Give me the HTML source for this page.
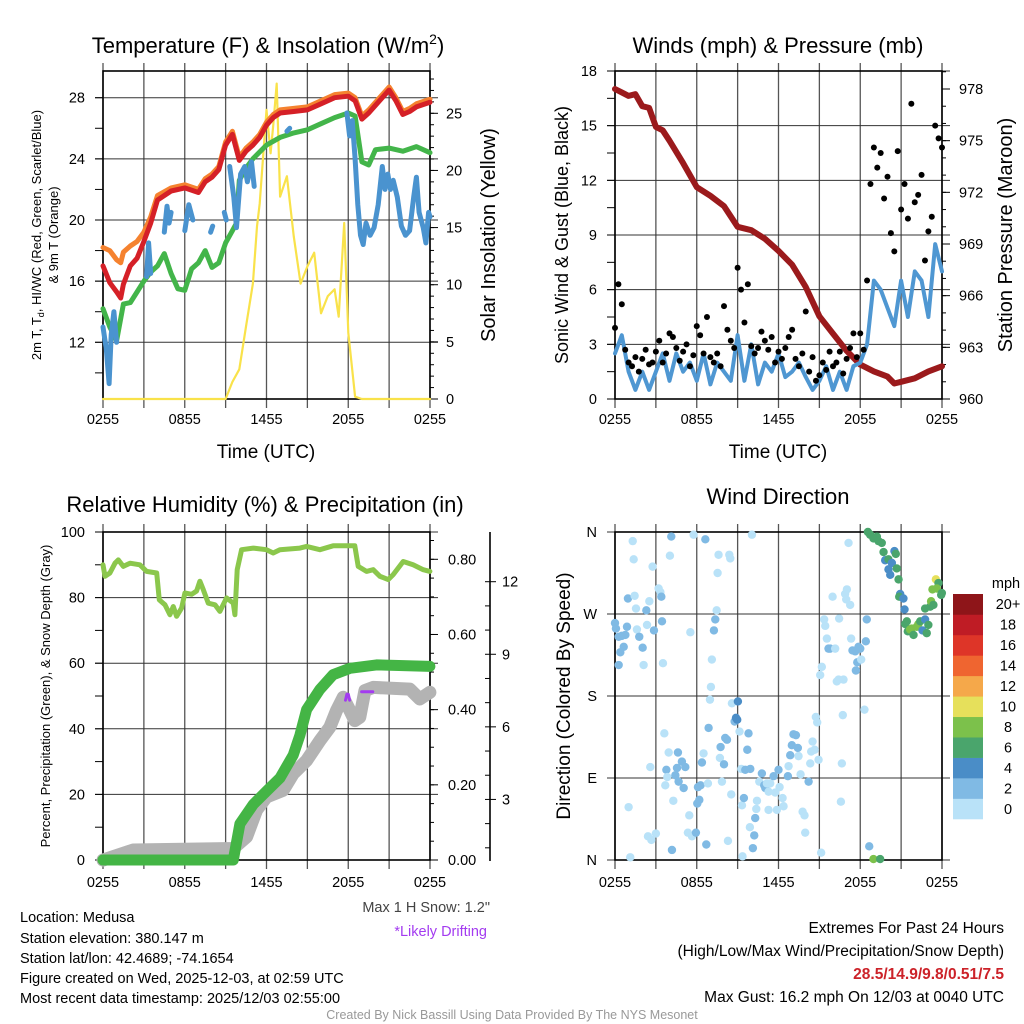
<!DOCTYPE html>
<html><head><meta charset="utf-8">
<style>
html,body{margin:0;padding:0;background:#fff;}
svg{display:block;font-family:"Liberation Sans",Arial,sans-serif;}
</style></head>
<body>
<svg id="chart" width="1024" height="1024" viewBox="0 0 1024 1024" xmlns="http://www.w3.org/2000/svg">
<rect x="0" y="0" width="1024" height="1024" fill="#fff"/>
<text x="268" y="53" font-size="22" text-anchor="middle">Temperature (F) &amp; Insolation (W/m<tspan font-size="14" dy="-9">2</tspan><tspan dy="9">)</tspan></text>
<text x="778" y="53" font-size="22" text-anchor="middle">Winds (mph) &amp; Pressure (mb)</text>
<text x="265" y="512" font-size="22" text-anchor="middle">Relative Humidity (%) &amp; Precipitation (in)</text>
<text x="778" y="504" font-size="22" text-anchor="middle">Wind Direction</text>

<text x="266" y="458" font-size="19" text-anchor="middle">Time (UTC)</text>
<text x="778" y="458" font-size="19" text-anchor="middle">Time (UTC)</text>

<text transform="translate(41,235) rotate(-90)" font-size="13" text-anchor="middle">2m T, T<tspan font-size="9" dy="3">d</tspan><tspan dy="-3">, HI/WC (Red, Green, Scarlet/Blue)</tspan></text>
<text transform="translate(58,235) rotate(-90)" font-size="13" text-anchor="middle">&amp; 9m T (Orange)</text>
<text transform="translate(495,235) rotate(-90)" font-size="20" text-anchor="middle">Solar Insolation (Yellow)</text>
<text transform="translate(568,235) rotate(-90)" font-size="18" text-anchor="middle">Sonic Wind &amp; Gust (Blue, Black)</text>
<text transform="translate(1012,235) rotate(-90)" font-size="20" text-anchor="middle">Station Pressure (Maroon)</text>
<text transform="translate(50,696) rotate(-90)" font-size="13" text-anchor="middle">Percent, Precipitation (Green), &amp; Snow Depth (Gray)</text>
<text transform="translate(570,696) rotate(-90)" font-size="19" text-anchor="middle">Direction (Colored By Speed)</text>

<g font-size="14.5">
<text x="20" y="922">Location: Medusa</text>
<text x="20" y="943">Station elevation: 380.147 m</text>
<text x="20" y="963">Station lat/lon: 42.4689; -74.1654</text>
<text x="20" y="983">Figure created on Wed, 2025-12-03, at 02:59 UTC</text>
<text x="20" y="1003">Most recent data timestamp: 2025/12/03 02:55:00</text>
</g>
<text x="490" y="912" font-size="14.5" fill="#444" text-anchor="end">Max 1 H Snow: 1.2"</text>
<text x="487" y="936" font-size="14.5" fill="#a33bf0" text-anchor="end">*Likely Drifting</text>
<text x="1004" y="933" font-size="15.5" text-anchor="end">Extremes For Past 24 Hours</text>
<text x="1004" y="956" font-size="15.5" text-anchor="end">(High/Low/Max Wind/Precipitation/Snow Depth)</text>
<text x="1004" y="979" font-size="15.5" font-weight="bold" fill="#cc2229" text-anchor="end">28.5/14.9/9.8/0.51/7.5</text>
<text x="1004" y="1002" font-size="15.5" text-anchor="end">Max Gust: 16.2 mph On 12/03 at 0040 UTC</text>
<text x="512" y="1019" font-size="12.5" fill="#999" text-anchor="middle">Created By Nick Bassill Using Data Provided By The NYS Mesonet</text>
</svg>
<script>
// ---------- data ----------
const timeLabels = ["0255","0855","1455","2055","0255"];
// Temperature panel
const tempHours = [0,0.5,1,1.3,1.5,2,2.5,3,3.5,4,5,6,7,7.5,8,8.5,9,9.5,10,10.5,11,11.5,12,12.5,13,14,15,16,17,18,18.5,19,19.5,20,21,21.5,22,22.5,23,24];
const tempRed = [17.0,15.9,15.3,14.9,15.8,17.0,17.5,18.6,19.8,21.3,21.9,22.1,21.8,22.5,22.8,23.3,24.9,25.6,23.9,24.5,24.9,25.4,26.2,26.7,27.0,27.1,27.2,27.6,28.0,28.1,27.8,26.6,27.0,27.5,28.5,27.8,26.9,27.1,27.4,27.7];
const tempOrange = [18.2,18.0,17.4,17.2,17.9,18.3,18.6,19.2,20.2,21.6,22.1,22.3,22.0,22.7,23.0,23.5,25.1,25.8,24.1,24.7,25.1,25.6,26.4,26.9,27.2,27.3,27.4,27.8,28.2,28.3,28.0,26.8,27.2,27.7,28.7,28.0,27.1,27.3,27.6,27.9];
const dewHours = [0,0.5,1,1.5,2,2.5,3,3.5,4,4.5,5,5.5,6,6.5,7,7.5,8,8.5,9,9.5,9.8,10,10.5,11,12,13,14,15,16,17,18,18.5,19,19.5,20,21,22,23,24];
const dewValues = [14.2,13.0,12.1,14.5,14.6,15.3,16.0,16.6,17.0,17.8,16.5,15.5,15.4,16.8,17.2,18.0,16.9,17.2,18.5,19.3,19.8,22.6,23.4,24.0,24.9,25.4,25.7,25.9,26.3,26.7,27.0,26.8,23.8,23.6,24.6,24.7,24.5,24.8,24.4];
const wcHours = [0,0.25,0.45,0.6,0.8,1.0,null,3.2,3.35,3.5,null,4.5,4.7,4.85,5.0,null,6.0,6.3,6.6,null,7.9,8.05,null,8.9,9.05,null,9.3,9.6,9.8,10.1,10.4,10.6,10.9,11.1,null,13.5,13.7,null,17.9,18.1,18.3,18.5,18.7,18.9,19.1,19.3,19.6,19.9,20.2,20.5,20.7,20.9,21.1,21.3,21.6,21.9,22.2,22.5,22.8,23.0,23.2,23.5,23.7,23.9,24];
const wcValues = [13,11.5,9.3,12.5,14,12,null,16.3,18.5,16.5,null,19.2,20.9,19.8,20.5,null,19.3,21,20,null,19.2,19.6,null,20.5,20,null,23.5,21.5,19.5,23,23.5,22.5,23.8,22.2,null,25.8,26,null,27,25.5,26.5,24,21,19,18.4,19.8,19,19.5,21,23.5,22,23,22,22.6,21.5,19.6,19,19.3,21.5,22.8,20.5,19.5,18.5,20.5,20.2];
const solarHours = [0,9,9.5,10,10.5,11,11.3,11.5,12,12.3,12.5,12.75,13,13.5,14,14.5,15,15.5,16,16.5,17,17.3,17.7,18,18.5,19,24];
const solarValues = [0,0,1.5,2.6,6.4,10.1,15.1,17.1,25.3,21.5,24,27.6,17.7,19.5,14.2,10.1,11.6,12.8,7.5,9.0,9.6,7.2,15.4,5.8,0.2,0,0];
const tempTicks = [12,16,20,24,28];
const solarTicks = [0,5,10,15,20,25];
// Wind panel
const pressureHours = [0,0.5,1,1.5,2,2.5,3,3.5,4,5,6,7,8,9,10,11,12,13,14,15,16,17,18,19,20,20.5,21,22,23,24];
const pressureValues = [978.0,977.8,977.6,977.7,977.0,976.9,975.8,975.6,975.0,973.7,972.3,971.8,971.2,970.0,969.8,969.3,968.6,967.8,966.5,964.8,963.8,962.8,962.0,961.6,961.3,960.9,961.0,961.2,961.6,961.9];
const windValues = [2.5,3.5,1.5,0.5,1.5,0.5,1.5,2.5,1.0,2.5,1.5,2.0,1.0,2.5,0.8,2.0,1.5,1.0,3.5,1.0,3.0,0.8,2.0,1.5,2.5,1.2,1.5,2.0,1.2,0.5,1.0,1.8,0.5,1.5,0.5,1.8,2.0,3.0,6.5,6.0,5.0,4.0,6.5,4.5,7.0,6.5,4.5,8.5,7.0];
const gustValues = [3.9,6.3,5.2,2.7,2.0,1.8,2.3,1.5,2.2,2.7,1.9,2.0,2.6,3.2,2.0,2.5,3.6,3.4,2.8,2.1,2.6,3.0,1.8,2.4,4.0,3.5,2.5,4.5,2.3,2.0,2.5,1.8,5.1,3.8,3.2,2.8,7.2,6.0,4.2,6.3,2.9,2.5,2.8,3.7,3.2,2.7,3.4,2.0,2.6,2.2,2.8,3.4,3.8,2.2,1.8,2.5,4.8,1.5,2.3,1.0,1.3,2.0,1.6,2.6,1.8,2.0,2.6,1.4,2.2,2.8,3.6,2.3,3.6,2.7,6.5,11.8,13.8,12.7,13.5,11.0,12.2,9.1,8.1,13.6,10.4,11.8,9.9,16.2,10.8,11.2,12.3,7.6,9.2,10.0,15.0,14.3,13.8];
const windTicks = [0,3,6,9,12,15,18];
const pressureTicks = [960,963,966,969,972,975,978];
// Humidity panel
const rhHours = [0,0.15,0.51,0.88,1.12,1.49,1.98,2.71,3.2,3.94,4.13,4.55,4.91,5.16,5.4,5.77,6.01,6.5,6.87,7.11,7.36,7.73,8.22,8.58,9.07,9.56,9.68,9.85,10.17,11.03,12.0,12.49,12.98,14.45,14.94,15.92,16.89,18.48,18.73,19.34,19.83,20.32,20.93,21.3,22.03,22.76,23.5,23.99];
const rhValues = [90,86.5,87.5,90.5,91.5,89.5,90.5,90,88,87.5,79.3,77.8,74.8,77.3,74.3,76.8,81.4,81,82,85,82.4,78.3,77.8,75.8,79.9,78.3,74.8,88.5,94.6,95.1,94.6,93.6,94.6,95.1,95.6,94.6,95.8,95.8,89.5,88,88.5,86.5,85.5,87,91,90,88.5,88];
const precipHours = [0,9.56,10.05,11.03,12.0,12.98,13.96,14.45,14.94,15.92,16.89,18.12,20.07,23.99];
const precipValues = [0,0,0.096,0.148,0.183,0.218,0.279,0.332,0.40,0.454,0.493,0.51,0.519,0.515];
const snowHours = [0,2.22,9.56,10.54,11.27,12.0,13.23,13.96,14.94,15.92,16.65,17.14,17.63,18.0,18.48,18.85,19.22,19.83,22.52,23.25,23.99];
const snowValues = [0.49,0.91,0.97,1.45,2.56,3.1,3.38,4.06,4.61,5.43,5.99,6.67,7.22,6.81,6.26,6.4,7.5,7.63,7.56,7.15,7.43];
const driftHours = [17.8,17.9,18.0,18.1,null,18.98,19.2,19.4,19.8];
const driftValues = [7.1,7.35,7.35,7.1,null,7.45,7.45,7.45,7.45];
const rhTicks = [0,20,40,60,80,100];
const precipTicks = [0,0.2,0.4,0.6,0.8];
const snowTicks = [3,6,9,12];
// Wind direction panel
const dirLabels = ["N","E","S","W","N"];
const dirTickValues = [0,90,180,270,360];
const wdHours = [0,0.07,0.27,0.5,0.76,0.88,0.64,0.39,0.27,0.95,1.3,1.37,1.44,1.54,1.61,1.78,2.03,2.1,2.3,2.35,2.52,2.76,2.86,3.2,3.33,3.4,3.45,3.52,4.13,4.03,1.0,2.42,2.67,3.0,1.12,2.59,3.62,3.77,3.94,4.62,3.84,4.43,4.55,4.91,5.16,4.67,5.04,3.69,4.28,4.18,5.45,5.35,5.65,5.94,5.77,6.63,5.53,6.04,6.19,6.09,6.28,6.38,6.82,6.5,6.87,6.97,7.04,7.11,7.26,7.36,7.46,7.6,7.53,8.39,8.46,6.7,7.75,7.7,8.0,7.85,8.09,8.22,8.53,8.29,8.58,8.78,8.88,9.02,8.97,9.14,9.27,9.56,9.71,9.8,9.93,9.32,9.46,9.9,10.22,10.12,9.36,10.05,10.29,10.42,10.37,10.59,10.78,10.95,11.03,11.15,11.27,11.39,11.64,11.76,12.0,12.08,12.3,12.37,11.27,11.88,12.69,12.74,12.86,12.98,13.1,13.28,13.42,13.47,13.62,13.77,13.91,13.96,14.21,14.33,14.4,14.5,14.65,14.74,14.84,14.94,15.06,15.18,15.35,15.43,15.55,15.67,15.79,15.97,16.16,16.28,16.41,16.77,16.45,16.65,16.58,16.72,16.89,16.97,17.02,17.14,17.26,17.33,17.43,17.63,17.68,17.78,17.87,18.0,18.07,18.41,18.48,18.31,15.13,18.66,18.97,19.46,18.56,18.73,18.97,19.22,19.34,19.58,19.71,19.83,20.07,20.32,20.51,20.61,20.07,20.2,20.68,20.81,20.93,20.86,21.17,21.25,21.42,21.3,21.49,21.66,21.78,21.91,22.15,22.27,22.4,22.57,22.76,22.88,23.0,22.76,23.13,23.2,23.37,23.3,23.55,23.74,23.62,23.94,23.99];
const wdDirs = [260,254,245,246,247,256,234,228,214,287,350,330,290,276,253,245,233,214,274,258,284,322,252,298,294,289,262,216,355,334,58,26,22,29,3,102,139,99,118,118,91,93,101,108,102,86,79,82,65,11,49,30,26,30,357,352,250,62,66,80,82,107,84,117,145,176,190,220,252,264,274,335,315,335,331,17,124,112,105,86,134,132,72,21,172,152,156,174,154,141,100,99,121,139,100,60,68,36,27,13,4,357,46,65,56,86,95,82,79,84,75,84,92,74,99,80,68,59,55,55,92,103,115,126,138,137,123,114,94,53,49,30,86,106,119,130,121,157,151,110,203,212,264,257,243,232,232,289,232,196,198,198,265,106,64,159,292,286,297,348,280,243,230,229,208,217,234,232,220,240,264,165,8,15,1,1,360,357,353,355,350,348,338,329,330,326,339,336,319,313,320,308,292,289,287,275,262,259,251,253,254,247,256,259,262,252,264,249,258,276,278,284,280,297,308,304,298,291,293];
const wdSpeeds = [3,3,3,3,3,3,3,3,3,3,1,1,1,1,1,3,3,1,3,1,1,1,3,1,1,3,3,1,3,1,1,1,1,1,1,1,1,3,1,3,1,3,3,3,3,3,3,1,1,3,1,1,1,3,1,3,1,3,3,3,3,3,1,1,3,1,1,1,3,3,1,1,1,1,1,3,3,1,3,1,3,3,1,1,1,3,4.5,4.5,4.5,1,1,3,3,3,3,1,3,1,3,3,1,1,3,1,1,1,3,3,3,1,1,1,3,1,3,1,1,1,1,1,3,1,3,3,3,3,3,1,1,1,1,1,3,1,1,1,1,1,1,1,1,1,1,1,1,3,3,1,1,1,1,1,1,1,1,1,1,1,1,1,1,1,3,3,3,3,3,3,1,3,3,1,1,3,8.5,6.5,6.5,6.5,6.5,6.5,6.5,6.5,6.5,4.5,6.5,4.5,4.5,6.5,4.5,4.5,6.5,6.5,4.5,6.5,4.5,4.5,6.5,6.5,6.5,8.5,8.5,6.5,8.5,8.5,6.5,4.5,4.5,6.5,6.5,6.5,6.5,8.5,6.5,8.5,10.5,6.5,8.5,6.5,6.5];
const speedBinLabels = ["0","2","4","6","8","10","12","14","16","18","20+"];
const speedBinColors = ["#b9e2f8","#80bae4","#4a8dc7","#4aa56c","#7cc14b","#e6e05b","#f5a84a","#ef6530","#de3528","#bf1c25","#8e1519"];

// ---------- helpers ----------
const NS = "http://www.w3.org/2000/svg";
const svg = document.getElementById('chart');
function mk(tag, attrs, parent){
  const e = document.createElementNS(NS, tag);
  for (const k in attrs) e.setAttribute(k, attrs[k]);
  (parent || svg).appendChild(e);
  return e;
}
function lin(d0, d1, r0, r1){ return v => r0 + (v - d0) * (r1 - r0) / (d1 - d0); }
function pathFrom(xs, ys, xf, yf){
  let d = "", pen = false;
  for (let i = 0; i < xs.length; i++){
    if (xs[i] === null || ys[i] === null){ pen = false; continue; }
    d += (pen ? "L" : "M") + xf(xs[i]).toFixed(1) + "," + yf(ys[i]).toFixed(1);
    pen = true;
  }
  return d;
}
const W = 327;

function frame(name, x0, top, bot, hTickYs, xLabelY){
  const g = mk('g', {});
  
  
  const xs = lin(0, 24, x0, x0 + W);
  for (let h = 0; h <= 24; h += 3){
    const l = mk('line', {x1: xs(h), x2: xs(h), y1: top - 8, y2: bot + 9, stroke: '#555', 'stroke-width': 1.3}, g);
    
    
  }
  hTickYs.forEach(y => {
    const l = mk('line', {x1: x0 - 8, x2: x0 + W + 8, y1: y, y2: y, stroke: '#333', 'stroke-width': 1}, g);
    
    
  });
  timeLabels.forEach((t, i) => {
    const tx = mk('text', {x: xs(i * 6), y: xLabelY, 'font-size': 14.5, 'text-anchor': 'middle'}, g);
    tx.textContent = t;
    
    
  });
  const b = mk('rect', {x: x0, y: top, width: W, height: bot - top, fill: 'none', stroke: '#000', 'stroke-width': 1.6}, g);
  
  
  return xs;
}
function yLabels(name, ticks, yf, x, anchor, fmt){
  ticks.forEach(v => {
    const t = mk('text', {x: x, y: yf(v) + 5, 'font-size': 14.5, 'text-anchor': anchor});
    t.textContent = fmt ? fmt(v) : v;
    
    
  });
}
function minorTicks(name, lo, hi, step, yf, x, len){
  for (let v = lo; v <= hi + 1e-9; v += step){
    const l = mk('line', {x1: x, x2: x + len, y1: yf(v), y2: yf(v), stroke: '#000', 'stroke-width': 1});
    
    
  }
}
function line(name, xs, ys, xf, yf, color, w){
  const p = mk('path', {d: pathFrom(xs, ys, xf, yf), fill: 'none', stroke: color, 'stroke-width': w, 'stroke-linecap': 'round', 'stroke-linejoin': 'round'});
  
  
  return p;
}

// ---------- Panel 1: temperature ----------
{
  const yT = lin(12, 28, 342.3, 97.7);
  const yS = lin(0, 25, 399, 113.3);
  frame('temperature', 103, 71, 399, tempTicks.map(yT), 424);
  yLabels('temperature-y', tempTicks, yT, 85, 'end');
  minorTicks('temperature-y-minor', 10, 28, 2, yT, 95, 8);
  yLabels('solar-y', solarTicks, yS, 446, 'start');
  minorTicks('solar-y-minor', 0, 28, 1, yS, 430, 4);
  minorTicks('solar-y-major', 0, 25, 5, yS, 430, 8);
  const hx = lin(0, 24, 103, 430);
  line('solar-insolation-line', solarHours, solarValues, hx, yS, '#f9e24a', 2.2);
  line('temperature-9m-orange-line', tempHours, tempOrange, hx, yT, '#f5822f', 5);
  line('temperature-2m-red-line', tempHours, tempRed, hx, yT, '#d52027', 5);
  line('dewpoint-green-line', dewHours, dewValues, hx, yT, '#43b54a', 5);
  line('windchill-blue-line', wcHours, wcValues, hx, yT, '#4a93cf', 5);
}
// ---------- Panel 2: winds ----------
{
  const yW = lin(0, 18, 399, 71);
  const yP = lin(960, 978, 399, 89);
  frame('winds', 615, 71, 399, windTicks.map(yW), 424);
  yLabels('wind-y', windTicks, yW, 597, 'end');
  minorTicks('wind-y-minor', 0, 18, 1.5, yW, 607, 8);
  yLabels('pressure-y', pressureTicks, yP, 959, 'start', v => v);
  minorTicks('pressure-y-minor', 960, 979, 1, yP, 942, 4);
  minorTicks('pressure-y-major', 960, 978, 3, yP, 942, 8);
  const hx = lin(0, 24, 615, 942);
  const windHours = windValues.map((v, i) => i * 0.5);
  line('pressure-maroon-line', pressureHours, pressureValues, hx, yP, '#9b1a1c', 6);
  line('wind-speed-blue-line', windHours, windValues, hx, yW, '#4f97d2', 4);
  gustValues.forEach((v, i) => {
    const c = mk('circle', {cx: hx(i * 0.25), cy: yW(v), r: 3, fill: '#000'});
    
    
  });
}
// ---------- Panel 3: humidity ----------
{
  const yR = lin(0, 100, 860, 532);
  const yPr = lin(0, 0.8, 860, 559.3);
  const ySn = lin(0, 12, 872, 581.7);
  frame('humidity', 103, 532, 860, rhTicks.map(yR), 887);
  yLabels('humidity-y', rhTicks, yR, 85, 'end');
  minorTicks('humidity-y-minor', 0, 100, 10, yR, 95, 8);
  yLabels('precip-y', precipTicks, yPr, 448, 'start', v => v.toFixed(2));
  minorTicks('precip-y-minor', 0, 0.85, 0.05, yPr, 430, 4);
  minorTicks('precip-y-major', 0, 0.8, 0.2, yPr, 430, 8);
  const ax = mk('line', {x1: 490, x2: 490, y1: 532, y2: 861, stroke: '#000', 'stroke-width': 1.6});
  
  
  yLabels('snow-y', snowTicks, ySn, 502, 'start');
  minorTicks('snow-y-minor', 1, 12, 1, ySn, 485, 5);
  minorTicks('snow-y-major', 3, 12, 3, ySn, 490, 6);
  const hx = lin(0, 24, 103, 430);
  line('snow-depth-gray-line', snowHours, snowValues, hx, ySn, '#b3b3b3', 13);
  line('precipitation-green-line', precipHours, precipValues, hx, yPr, '#44b545', 11);
  line('relative-humidity-line', rhHours, rhValues, hx, yR, '#8bc74c', 5);
  line('likely-drifting-marks', driftHours, driftValues, hx, ySn, '#a33bf0', 3);
}
// ---------- Panel 4: wind direction ----------
{
  const yD = lin(0, 360, 860, 532);
  frame('direction', 615, 532, 860, dirTickValues.map(yD), 887);
  dirLabels.forEach((t, i) => {
    const tx = mk('text', {x: 597, y: yD(dirTickValues[i]) + 5, 'font-size': 14.5, 'text-anchor': 'end'});
    tx.textContent = t;
    
    
  });
  const hx = lin(0, 24, 615, 942);
  wdHours.forEach((h, i) => {
    const bin = Math.min(10, Math.floor(wdSpeeds[i] / 2));
    const c = mk('circle', {cx: hx(h), cy: yD(wdDirs[i]), r: 4.2, fill: speedBinColors[bin]});
    
    
  });
  const lg = mk('g', {});
  
  
  const bh = 225 / speedBinColors.length;
  speedBinColors.forEach((col, i) => {
    const y = 819 - (i + 1) * bh;
    const r = mk('rect', {x: 953, y: y, width: 30, height: bh + 0.3, fill: col}, lg);
    
    
    const t = mk('text', {x: 1008, y: y + bh / 2 + 5, 'font-size': 14.5, 'text-anchor': 'middle'}, lg);
    t.textContent = speedBinLabels[i];
    
    
  });
  const u = mk('text', {x: 1006, y: 588, 'font-size': 14.5, 'text-anchor': 'middle'}, lg);
  u.textContent = 'mph';
  
  
}
</script>
</body></html>
